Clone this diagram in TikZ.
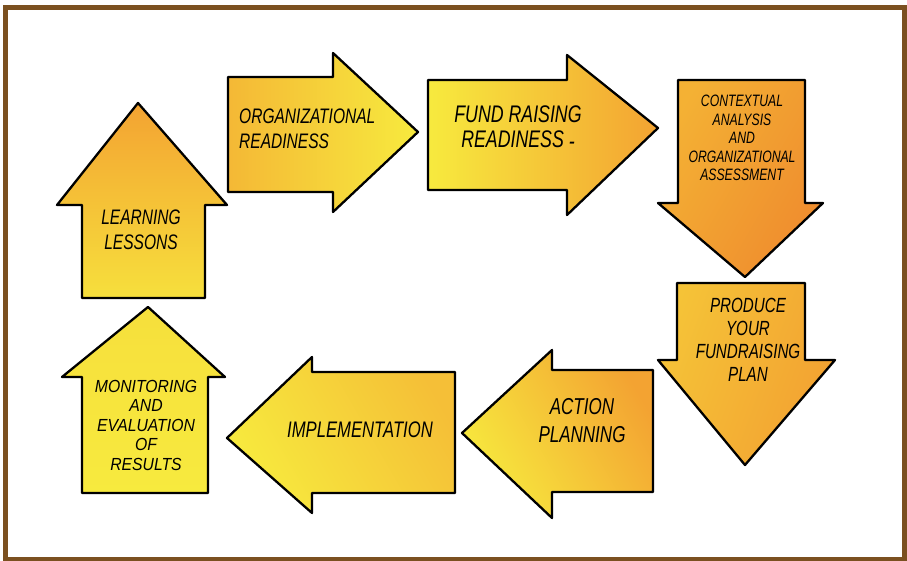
\documentclass[tikz,border=0pt]{standalone}
\usepackage{fontspec}
\newfontfamily\handfont[FakeStretch=0.74]{Liberation Sans}
\newfontfamily\handwide[FakeStretch=0.9]{Liberation Sans}
\usepackage{tikz}
\usetikzlibrary{
	calc,
	positioning,
}
\definecolor{fillyellow}{RGB}{247,234,62}
\definecolor{fillorange}{RGB}{243,163,50}
\definecolor{fillamber}{RGB}{239,140,46}
\definecolor{framebrown}{RGB}{123,80,32}
\tikzset{block arrow/.style={
	draw=black,
	line width=2.3pt,
	line join=round,
}}
\tikzset{hand text/.style={
	draw=none,
	align=center,
	inner sep=0pt,
	text=black,
	font=\handfont\itshape\fontsize{21}{25}\selectfont,
}}

\begin{document}
\begin{tikzpicture}[x=1pt, y=-1pt]

\useasboundingbox (0,0) rectangle (907,561);
\fill[white] (0,0) rectangle (907,561);
\draw[framebrown, line width=5pt] (5.5,7.5) rectangle (904.5,559.5);

% left column, going up
\shadedraw[block arrow, top color=fillorange, bottom color=fillyellow!85!fillorange]
	(82,298) -- (82,205) -- (57,205) -- (138,103) -- (227,205) -- (205,205) -- (205,298) -- cycle;
\shadedraw[block arrow, top color=fillyellow!85!fillorange, bottom color=fillyellow]
	(82,493) -- (82,377) -- (62,377) -- (148,307) -- (225,377) -- (208,377) -- (208,493) -- cycle;

% top row, going right
\shadedraw[block arrow, left color=fillorange!70!fillyellow, right color=fillyellow]
	(228,77) -- (333,77) -- (333,53) -- (418,132) -- (333,212) -- (333,192) -- (228,192) -- cycle;
\shadedraw[block arrow, left color=fillyellow, right color=fillorange]
	(428,80) -- (567,80) -- (567,55) -- (658,128) -- (567,215) -- (567,190) -- (428,190) -- cycle;

% right column, going down
\shadedraw[block arrow, left color=fillorange!80!fillyellow, right color=fillamber, shading angle=60]
	(678,80) -- (805,80) -- (805,203) -- (823,203) -- (745,277) -- (658,203) -- (678,203) -- cycle;
\shadedraw[block arrow, left color=fillorange!55!fillyellow, right color=fillorange!90!fillamber, shading angle=70]
	(677,283) -- (805,283) -- (805,360) -- (835,360) -- (745,465) -- (658,360) -- (677,360) -- cycle;

% bottom row, going left
\shadedraw[block arrow, left color=fillyellow, right color=fillorange, shading angle=120]
	(653,370) -- (653,492) -- (552,492) -- (552,518) -- (462,433) -- (552,350) -- (552,370) -- cycle;
\shadedraw[block arrow, left color=fillyellow, right color=fillorange!60!fillyellow, shading angle=120]
	(455,372) -- (455,493) -- (312,493) -- (312,513) -- (227,438) -- (312,357) -- (312,372) -- cycle;

% labels
\node[hand text] (lessons) at (141,230) {LEARNING\\LESSONS};
\node[hand text, align=left, anchor=west] (orgready) at (239,129) {ORGANIZATIONAL\\READINESS};
\node[hand text, font=\handfont\itshape\fontsize{24}{25}\selectfont] (fundready) at (518,128)
	{FUND RAISING\\READINESS \raisebox{-2pt}{-}};
\node[hand text, font=\handfont\itshape\fontsize{16.5}{18.5}\selectfont] (context) at (742,138)
	{CONTEXTUAL\\ANALYSIS\\AND\\ORGANIZATIONAL\\ASSESSMENT};
\node[hand text, font=\handfont\itshape\fontsize{20.5}{23}\selectfont] (plan) at (748,340)
	{PRODUCE\\YOUR\\FUNDRAISING\\PLAN};
\node[hand text, font=\handfont\itshape\fontsize{23}{28}\selectfont] (action) at (582,421)
	{ACTION\\PLANNING};
\node[hand text, font=\handfont\itshape\fontsize{22.5}{25}\selectfont] (implement) at (360,430)
	{IMPLEMENTATION};
\node[hand text, font=\handwide\itshape\fontsize{17.5}{19.5}\selectfont] (monitor) at (146,425)
	{MONITORING\\AND\\EVALUATION\\OF\\RESULTS};

\end{tikzpicture}
\end{document}
